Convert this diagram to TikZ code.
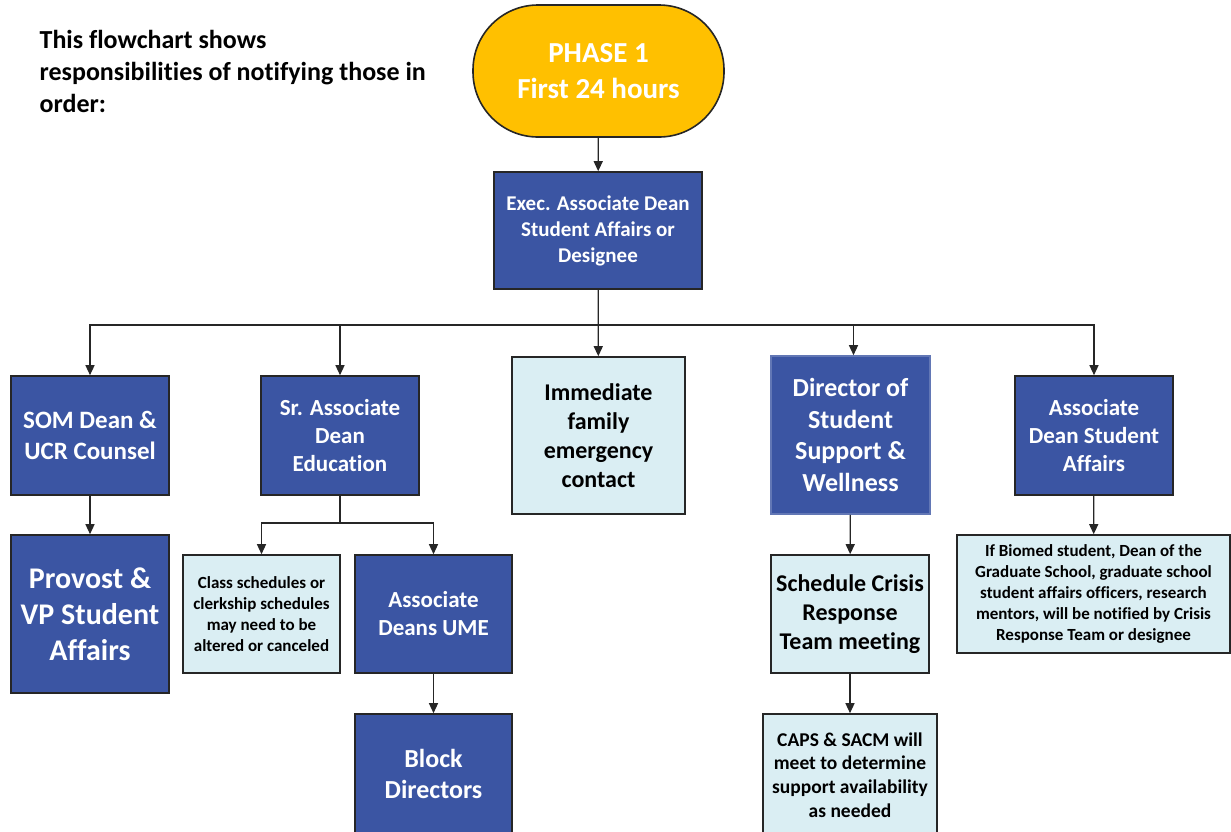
\documentclass[tikz,border=0pt]{standalone}
\usepackage{fontspec}
\setmainfont{Carlito}[Ligatures=NoCommon]
\usepackage{tikz}
\usetikzlibrary{shapes}
\usetikzlibrary{arrows.meta}
\definecolor{deanblue}{HTML}{3B55A3}
\definecolor{paleblue}{HTML}{DAEEF3}
\definecolor{phasegold}{HTML}{FFC000}
\definecolor{edgegray}{HTML}{262626}
\newcommand{\boxfont}[2]{\bfseries\fontsize{#1}{#2}\selectfont}
\tikzstyle{bluebox}=[rectangle,draw=edgegray,fill=deanblue,text=white,align=center,inner sep=0mm,line width=1.6]
\tikzstyle{palebox}=[rectangle,draw=edgegray,fill=paleblue,text=black,align=center,inner sep=0mm,line width=1.6]
\tikzstyle{phase}=[rectangle,rounded corners=65,draw=edgegray,fill=phasegold,text=white,align=center,inner sep=0mm,line width=1.6]
\tikzstyle{arrow}=[->,>={Triangle[length=10pt,width=9pt]}]
\tikzset{every picture/.style={
    line width=1.3
  }
}

\begin{document}
\begin{tikzpicture}[x=1pt,y=-1pt,draw=edgegray]
      \useasboundingbox (0,0) rectangle (1231,831);
      \clip (0,0) rectangle (1231,831);
      \node[anchor=north west,align=left,inner sep=0mm,font=\boxfont{26}{32}] at (39,30) (intro) {This flowchart shows\\responsibilities of notifying those in\\order:};
      \node[phase,minimum width=251pt,minimum height=132pt,font=\boxfont{29}{36}] at (598.5,71) (phase) {PHASE 1\\First 24 hours};
      \node[bluebox,minimum width=208pt,minimum height=117pt,font=\boxfont{21}{26}] at (598,230.5) (exec) {Exec. Associate Dean\\Student Affairs or\\Designee};
      \coordinate (bus) at (598,325);
      \node[bluebox,minimum width=158pt,minimum height=119pt,font=\boxfont{25}{31}] at (90,435.5) (som) {SOM Dean \&\\UCR Counsel};
      \node[bluebox,minimum width=158pt,minimum height=119pt,font=\boxfont{23}{28}] at (340,435.5) (sr) {Sr. Associate\\Dean\\Education};
      \node[palebox,minimum width=173pt,minimum height=157pt,font=\boxfont{24}{29}] at (598.5,435.5) (family) {Immediate\\family\\emergency\\contact};
      \node[bluebox,draw=deanblue!80,minimum width=159pt,minimum height=158pt,font=\boxfont{26}{31.5}] at (850.5,435) (director) {Director of\\Student\\Support \&\\Wellness};
      \node[bluebox,minimum width=158pt,minimum height=119pt,font=\boxfont{23}{28}] at (1094,435.5) (asa) {Associate\\Dean Student\\Affairs};
      \node[bluebox,minimum width=158pt,minimum height=158pt,font=\boxfont{30}{36}] at (90,614) (provost) {Provost \&\\VP Student\\Affairs};
      \coordinate (split) at (340,523);
      \node[palebox,minimum width=157pt,minimum height=118pt,font=\boxfont{17}{21}] at (261.5,614) (classes) {Class schedules or\\clerkship schedules\\may need to be\\altered or canceled};
      \node[bluebox,minimum width=157pt,minimum height=118pt,font=\boxfont{23}{28}] at (433.5,614) (ume) {Associate\\Deans UME};
      \node[bluebox,minimum width=157pt,minimum height=120pt,font=\boxfont{26}{31.5}] at (433.5,774) (block) {Block\\Directors};
      \node[palebox,minimum width=158pt,minimum height=118pt,font=\boxfont{24}{29}] at (850,614) (schedule) {Schedule Crisis\\Response\\Team meeting};
      \node[palebox,minimum width=174pt,minimum height=122pt,font=\boxfont{19.5}{23.7}] at (850,775) (caps) {CAPS \& SACM will\\meet to determine\\support availability\\as needed};
      \node[palebox,minimum width=273pt,minimum height=118pt,font=\boxfont{17}{21}] at (1093.5,594) (biomed) {If Biomed student, Dean of the\\Graduate School, graduate school\\student affairs officers, research\\mentors, will be notified by Crisis\\Response Team or designee};
      \draw[arrow] (phase) -- (exec);
      \draw[arrow] (exec) -- (family);
      \draw[arrow] (bus) -| (som.north);
      \draw[arrow] (bus) -| (sr.north);
      \draw[arrow] (bus) -| ([xshift=3pt]director.north);
      \draw[arrow] (bus) -| (asa.north);
      \draw[arrow] (som) -- (provost);
      \draw (sr) -- (split);
      \draw[arrow] (split) -| (classes.north);
      \draw[arrow] (split) -| (ume.north);
      \draw[arrow] (ume) -- (block);
      \draw[arrow] (director) -- (schedule);
      \draw[arrow] (schedule) -- (caps);
      \draw[arrow] (asa) -- (biomed);
    \end{tikzpicture}
\end{document}
